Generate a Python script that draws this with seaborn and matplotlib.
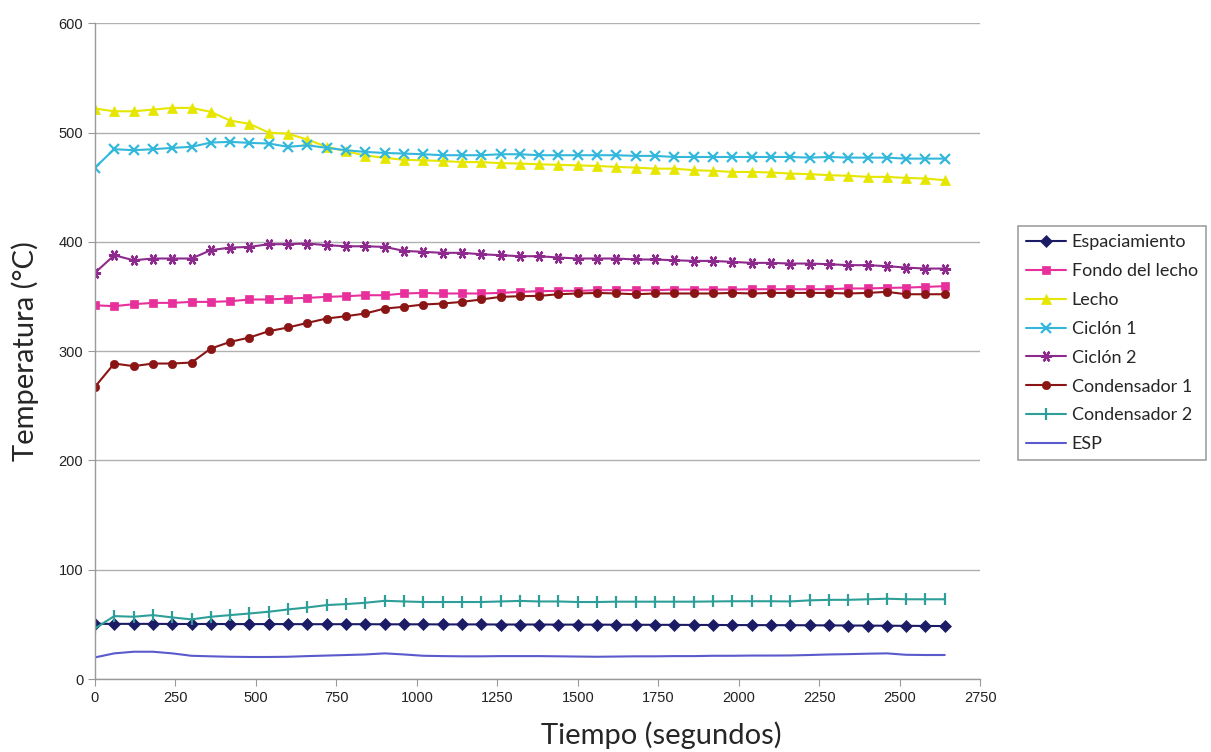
import numpy as np
import pandas as pd
import matplotlib
matplotlib.use('Agg')
import matplotlib.pyplot as plt
import seaborn as sns

# tiempo de muestreo (s)
tiempo = list(range(0, 2641, 60))

espaciamiento = [50.5, 50.5, 50.5, 50.5, 50.4, 50.4, 50.4, 50.3, 50.3, 50.3, 50.3, 50.2, 50.2, 50.2, 50.2,
                 50.1, 50.1, 50.1, 50.0, 50.0, 50.0, 49.9, 49.9, 49.9, 49.8, 49.8, 49.8, 49.7, 49.7, 49.6,
                 49.6, 49.5, 49.5, 49.4, 49.4, 49.3, 49.3, 49.2, 49.1, 49.0, 48.9, 48.8, 48.7, 48.6, 48.5]

fondo_lecho = [342.0, 341.2, 343.0, 344.2, 344.2, 345.1, 345.1, 345.7, 347.3, 347.3, 348.2, 348.8, 349.7, 350.3,
               351.2, 351.2, 352.8, 353.3, 352.8, 352.8, 352.8, 353.3, 354.3, 354.9, 355.2, 355.2, 355.8, 355.8,
               355.8, 355.8, 356.4, 356.4, 356.4, 356.4, 356.7, 356.7, 356.7, 356.7, 356.7, 357.4, 357.4, 357.9,
               358.2, 358.8, 359.5]

lecho = [522.0, 519.5, 519.5, 521.0, 522.6, 522.6, 519.0, 511.0, 508.0, 500.0, 499.0, 493.6, 487.0, 483.0,
         479.0, 477.0, 475.0, 474.7, 474.0, 473.0, 473.0, 472.0, 471.7, 471.0, 470.5, 470.0, 469.5, 468.6,
         468.0, 467.0, 467.0, 465.6, 465.0, 464.0, 464.0, 463.5, 462.5, 462.0, 461.0, 460.5, 459.5, 459.5,
         458.5, 458.0, 456.4]

ciclon1 = [468.0, 484.8, 483.9, 484.8, 486.0, 487.0, 490.9, 491.5, 490.6, 490.0, 487.0, 488.4, 486.0, 483.9,
           482.3, 481.4, 480.8, 480.2, 479.3, 479.3, 479.3, 480.2, 480.2, 479.3, 479.3, 479.3, 479.3, 479.3,
           478.7, 478.7, 477.7, 477.7, 477.7, 477.7, 477.7, 477.7, 477.7, 477.1, 477.7, 477.1, 477.1, 477.1,
           476.2, 476.2, 476.2]

ciclon2 = [371.7, 387.8, 383.2, 384.8, 384.8, 384.8, 392.4, 394.8, 395.4, 397.9, 397.9, 398.5, 397.0, 396.0,
           396.0, 395.4, 391.8, 390.9, 390.0, 390.0, 388.7, 387.8, 386.9, 386.9, 385.7, 384.8, 384.8, 384.8,
           383.9, 383.9, 383.2, 382.6, 382.6, 381.7, 380.8, 380.8, 380.2, 380.2, 379.6, 378.7, 378.7, 377.8,
           376.5, 375.6, 375.6]

condensador1 = [267.4, 288.7, 286.3, 288.7, 288.7, 289.6, 302.4, 308.5, 312.5, 318.3, 321.7, 325.9, 329.9,
                332.0, 334.5, 339.0, 340.6, 342.7, 343.6, 345.1, 347.3, 349.7, 350.3, 350.6, 352.1, 352.8,
                353.3, 352.8, 352.1, 352.8, 352.8, 352.8, 352.8, 353.3, 352.8, 353.3, 353.3, 353.3, 353.3,
                352.8, 353.3, 354.3, 352.1, 352.1, 352.1]

condensador2 = [46.3, 57.6, 57.0, 58.5, 56.4, 54.6, 57.0, 58.5, 60.0, 61.6, 63.7, 65.5, 67.7, 68.6, 69.8,
                71.6, 71.0, 70.5, 70.5, 70.5, 70.5, 71.0, 71.5, 71.0, 71.0, 70.5, 70.5, 70.8, 70.8, 70.8,
                70.8, 70.8, 71.0, 71.2, 71.2, 71.2, 71.0, 72.0, 72.5, 72.5, 73.0, 73.5, 73.0, 73.0, 73.0]

esp = [19.8, 23.5, 25.0, 25.0, 23.5, 21.3, 20.8, 20.4, 20.2, 20.2, 20.4, 21.0, 21.5, 22.0, 22.5, 23.5,
       22.5, 21.3, 21.0, 20.8, 20.8, 21.0, 21.0, 21.0, 20.8, 20.6, 20.4, 20.6, 20.8, 20.8, 21.0, 21.0,
       21.3, 21.3, 21.5, 21.5, 21.6, 22.0, 22.5, 22.8, 23.2, 23.5, 22.2, 22.0, 22.0]

series = [
    ('Espaciamiento', espaciamiento, '#1c1c66', 'D', 6),
    ('Fondo del lecho', fondo_lecho, '#e8309c', 's', 6),
    ('Lecho', lecho, '#e6e600', '^', 7),
    ('Ciclón 1', ciclon1, '#33b8dc', 'x', 7),
    ('Ciclón 2', ciclon2, '#8e2a8e', (6, 2, 90), 8),
    ('Condensador 1', condensador1, '#8b1515', 'o', 6),
    ('Condensador 2', condensador2, '#2e9f98', '|', 9),
    ('ESP', esp, '#5a5acc', None, 0),
]

sns.set_style('white')
plt.rcParams['font.family'] = ['Liberation Sans', 'DejaVu Sans']

fig = plt.figure(figsize=(12.11, 7.52), dpi=100)
ax = fig.add_axes([0.0784, 0.097, 0.731, 0.872])

for nombre, valores, color, marker, ms in series:
    df = pd.DataFrame({'t': tiempo, 'T': valores})
    sns.lineplot(data=df, x='t', y='T', ax=ax, color=color, marker=marker, markersize=ms,
                 markeredgecolor=color, markeredgewidth=1.6 if marker in ('x', '|', (6, 2, 90)) else 0.5,
                 linewidth=1.5, label=nombre)

ax.set_xlim(0, 2750)
ax.set_ylim(0, 600)
ax.set_xticks(np.arange(0, 2751, 250))
ax.set_yticks(np.arange(0, 601, 100))
ax.yaxis.grid(True, color='#b0b0b0', linewidth=1)
ax.xaxis.grid(False)
for s in ['top', 'right']:
    ax.spines[s].set_visible(False)
for s in ['left', 'bottom']:
    ax.spines[s].set_color('#999999')
    ax.spines[s].set_linewidth(1)
ax.tick_params(axis='both', which='both', length=5, color='#999999', labelsize=10.5, labelcolor='#222222',
               direction='out', bottom=True, left=True)

ax.set_xlabel('Tiempo (segundos)', fontsize=21, family='Lato')
ax.xaxis.set_label_coords(0.64, -0.065)
ax.set_ylabel('Temperatura (°C)', fontsize=21, family='Lato', labelpad=14)

leg = ax.legend(loc='center left', bbox_to_anchor=(1.043, 0.512), frameon=True, fancybox=False,
                prop={'family': 'Lato', 'size': 13}, handlelength=2.2, handletextpad=0.3,
                borderpad=0.45, labelspacing=0.71, borderaxespad=0)
leg.get_frame().set_edgecolor('#888888')
leg.get_frame().set_linewidth(1.2)

fig.savefig('out.png', dpi=100)
